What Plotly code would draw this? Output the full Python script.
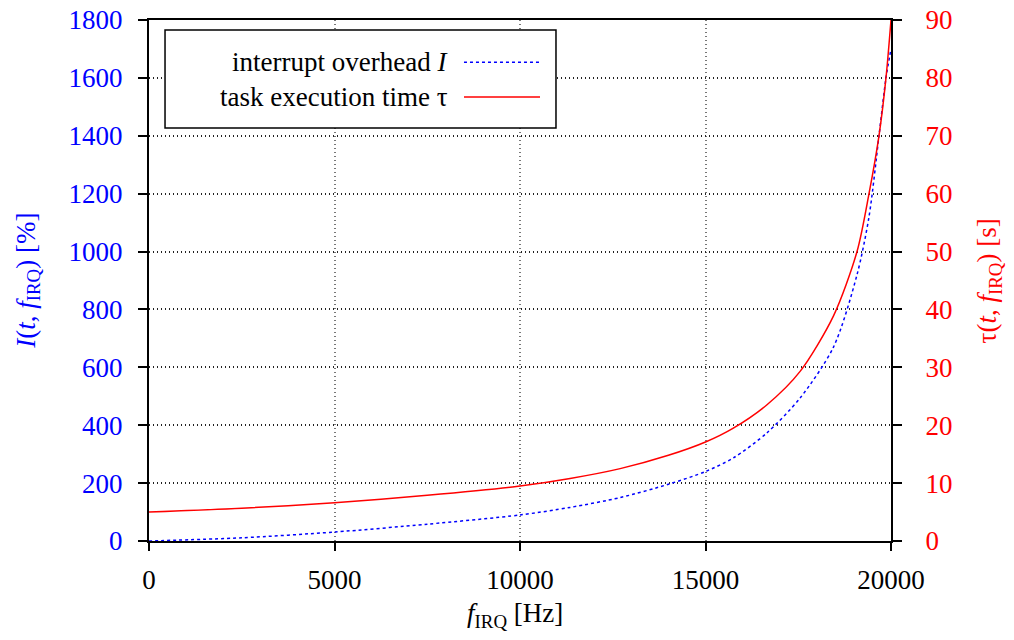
import plotly.graph_objects as go

# ---- data ----
f_hz = [0, 2500, 5000, 7500, 10000, 11350, 12700, 14000, 15000, 15750,
        16650, 17550, 18450, 19084, 19407, 19676, 19865, 20000]
overhead_pct = [0, 11, 31, 58, 90, 116, 150, 196, 240, 287,
                373, 494, 670, 920, 1120, 1400, 1600, 1700]
exec_time_s = [5.0, 5.65, 6.6, 7.9, 9.5, 10.8, 12.5, 14.8, 17.1, 19.5,
               23.5, 29.3, 38.9, 50, 60, 70, 80, 90]

x_ticks = [0, 5000, 10000, 15000, 20000]
y1_ticks = list(range(0, 1801, 200))
y2_ticks = list(range(0, 91, 10))

legend_labels = ["interrupt overhead <i>I</i>", "task execution time τ"]

FONT = "Liberation Serif, Times New Roman, serif"
FS = 27
BLUE = "#0000ff"
RED = "#ff0000"

fig = go.Figure()
fig.add_trace(go.Scatter(
    x=f_hz, y=overhead_pct, mode="lines", line_shape="spline",
    line=dict(color=BLUE, width=1.5, dash="3px,3px", smoothing=0.8),
    name=legend_labels[0], yaxis="y", showlegend=False))
fig.add_trace(go.Scatter(
    x=f_hz, y=exec_time_s, mode="lines", line_shape="spline",
    line=dict(color=RED, width=1.5, smoothing=0.8),
    name=legend_labels[1], yaxis="y2", showlegend=False))

fig.update_layout(
    width=1014, height=640,
    margin=dict(l=149, r=123, t=20, b=99, autoexpand=False),
    paper_bgcolor="white", plot_bgcolor="white",
    font=dict(family=FONT, size=FS, color="black"),
    xaxis=dict(range=[0, 20000], tickvals=x_ticks, ticktext=[str(v) for v in x_ticks],
               showline=True, linecolor="black", linewidth=2, mirror=True,
               ticks="outside", ticklen=8, tickwidth=1.5, tickcolor="black",
               showgrid=True, gridcolor="#777777", griddash="1px,3px", gridwidth=1.5,
               zeroline=False, automargin=False, ticklabelstandoff=6,
               tickfont=dict(color="black", size=FS)),
    yaxis=dict(range=[0, 1800], tickvals=y1_ticks, ticktext=[str(v) for v in y1_ticks],
               showline=True, linecolor="black", linewidth=2,
               ticks="outside", ticklen=9, tickwidth=1.5, tickcolor="black",
               showgrid=True, gridcolor="#222222", griddash="1px,3px", gridwidth=1.5,
               zeroline=False, automargin=False, ticklabelstandoff=10,
               tickfont=dict(color=BLUE, size=FS)),
    yaxis2=dict(range=[0, 90], tickvals=y2_ticks, ticktext=[str(v) for v in y2_ticks],
                overlaying="y", side="right",
                showline=True, linecolor="black", linewidth=2,
                ticks="outside", ticklen=9, tickwidth=1.5, tickcolor="black",
                showgrid=False, zeroline=False, automargin=False, ticklabelstandoff=18,
                tickfont=dict(color=RED, size=FS)),
)

# axis titles
fig.add_annotation(text="<i>I</i>(<i>t</i>, <i>f</i><sub>IRQ</sub>) [%]",
                   xref="paper", yref="paper", x=-0.164, y=0.5, textangle=-90,
                   xanchor="center", yanchor="middle",
                   showarrow=False, font=dict(color=BLUE, size=FS, family=FONT))
fig.add_annotation(text="τ(<i>t</i>, <i>f</i><sub>IRQ</sub>) [s]",
                   xref="paper", yref="paper", x=1.132, y=0.5, textangle=-90,
                   xanchor="center", yanchor="middle",
                   showarrow=False, font=dict(color=RED, size=FS, family=FONT))
fig.add_annotation(text="<i>f</i><sub>IRQ</sub> [Hz]",
                   xref="paper", yref="paper", x=0.493, y=-0.142,
                   xanchor="center", yanchor="middle",
                   showarrow=False, font=dict(color="black", size=FS, family=FONT))

# legend box (gnuplot style: text right-aligned, sample on the right)
fig.add_shape(type="rect", xref="paper", yref="paper",
              x0=0.0216, x1=0.5485, y0=0.7927, y1=0.9808,
              line=dict(color="black", width=1.5), fillcolor="white", layer="above")
legend_y = [0.919, 0.852]
legend_styles = [dict(color=BLUE, width=1.5, dash="3px,3px"), dict(color=RED, width=1.5)]
for lab, ly, st in zip(legend_labels, legend_y, legend_styles):
    fig.add_annotation(text=lab, xref="paper", yref="paper", x=0.405, y=ly,
                       xanchor="right", yanchor="middle", showarrow=False,
                       font=dict(color="black", size=FS, family=FONT))
    fig.add_shape(type="line", xref="paper", yref="paper",
                  x0=0.4245, x1=0.527, y0=ly, y1=ly, line=st, layer="above")

fig.write_html("out.html")
